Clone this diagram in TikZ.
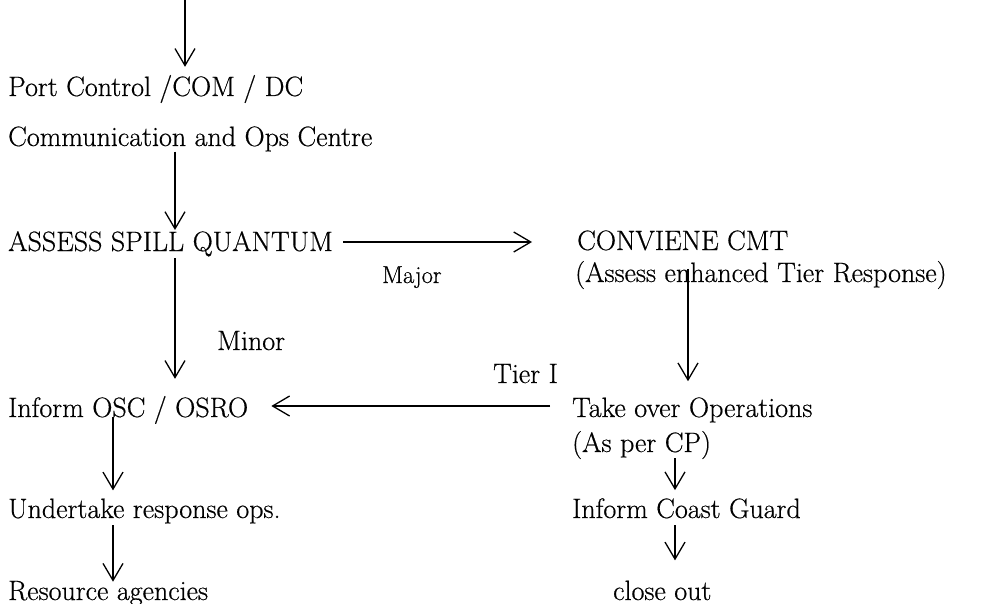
\documentclass[tikz,border=0pt]{standalone}
\usepackage{fontspec}
\setmainfont{Latin Modern Roman}[FakeBold=0.5]
\usetikzlibrary{arrows.meta}

\tikzset{
  lbl/.style={anchor=base west, inner sep=0pt, font=\fontsize{28}{32}\selectfont},
  smalllbl/.style={anchor=base west, inner sep=0pt, font=\fontsize{24.5}{28}\selectfont},
  flow/.style={line width=1.3pt, -{Straight Barb[length=17pt,width=20pt,line width=1.3pt]}},
}

\begin{document}
\begin{tikzpicture}[x=1pt,y=-1pt]
  \useasboundingbox (0,0) rectangle (982,604);

  % left column
  \node[lbl] (port)   at (8,96)   {Port Control /COM / DC};
  \node[lbl] (comm)   at (8,146)  {Communication and Ops Centre};
  \node[lbl] (assess) at (8,251)  {ASSESS SPILL QUANTUM};
  \node[lbl] (osc)    at (8,417)  {Inform OSC / OSRO};
  \node[lbl] (under)  at (8,518)  {Undertake response ops.};
  \node[lbl] (res)    at (8,600)  {Resource agencies};

  % right column
  \node[lbl] (cmt)    at (577,250) {CONVIENE CMT};
  \node[lbl] (cmtb)   at (575,282) {(Assess enhanced Tier Response)};
  \node[lbl] (take)   at (572,417) {Take over Operations};
  \node[lbl] (takeb)  at (572,452) {(As per CP)};
  \node[lbl] (coast)  at (572,518) {Inform Coast Guard};
  \node[lbl] (close)  at (613,600) {close out};

  % branch labels
  \node[smalllbl] (major) at (382,283) {Major};
  \node[lbl] (minor) at (217,350) {Minor};
  \node[lbl] (tier)  at (493,383) {Tier I};

  % incoming report
  \coordinate (src) at (185,0);
  \draw[flow] (src) -- ([yshift=8pt]port.north -| src);

  % left chain
  \coordinate (lx) at (175,0);
  \draw[flow] (comm.south -| lx) -- ([yshift=1pt]assess.north -| lx);
  \draw[flow] ([yshift=-7pt]assess.base -| lx) -- ([yshift=17pt]osc.north -| lx);
  \coordinate (ux) at (113,0);
  \draw[flow] (osc.base -| ux) -- ([yshift=8pt]under.north -| ux);
  \draw[flow] ([yshift=-7pt]under.base -| ux) -- ([yshift=-1pt]res.north -| ux);

  % major spill branch
  \draw[flow] ([xshift=10pt,yshift=9pt]assess.base east) -- ([xshift=-45pt,yshift=8pt]cmt.base west);

  % right chain
  \coordinate (rx) at (688,0);
  \draw[flow] ([yshift=-8pt]cmtb.north -| rx) -- ([yshift=16pt]take.north -| rx);
  \draw[flow] ([xshift=-22pt,yshift=11pt]take.base west) -- ([xshift=23pt,yshift=11pt]osc.base east);
  \coordinate (cx) at (675,0);
  \draw[flow] ([yshift=-6pt]takeb.base -| cx) -- ([yshift=8pt]coast.north -| cx);
  \draw[flow] ([yshift=-7pt]coast.base -| cx) -- ([yshift=20pt]close.north -| cx);
\end{tikzpicture}
\end{document}
